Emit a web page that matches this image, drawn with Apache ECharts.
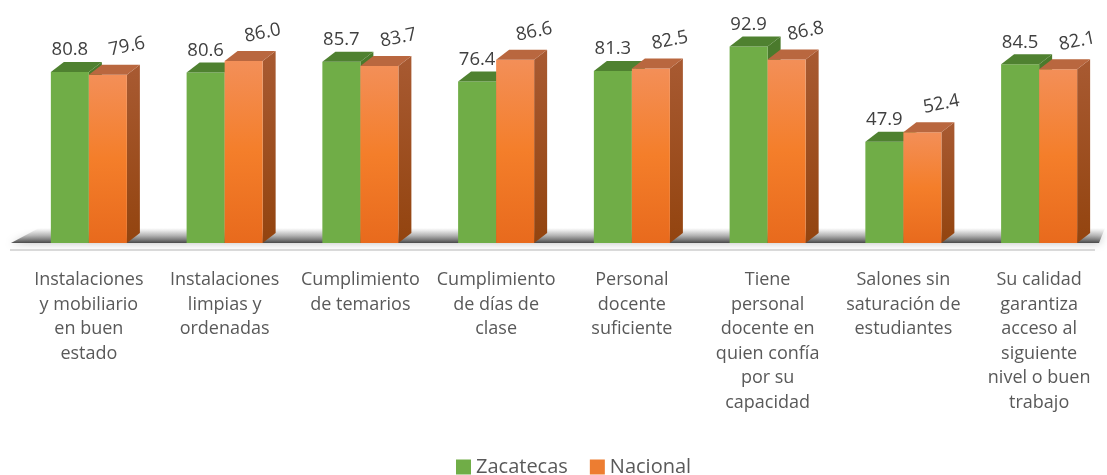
<!DOCTYPE html>
<html>
<head>
<meta charset="utf-8">
<script src="https://cdn.jsdelivr.net/npm/echarts@6/dist/echarts.min.js"></script>
<style>
  html, body { margin: 0; padding: 0; background: #ffffff; }
  #chart { width: 1107px; height: 475px; }
</style>
</head>
<body>
<div id="chart"></div>
<script>
const categories = [
  'Instalaciones\ny mobiliario\nen buen\nestado',
  'Instalaciones\nlimpias y\nordenadas',
  'Cumplimiento\nde temarios',
  'Cumplimiento\nde días de\nclase',
  'Personal\ndocente\nsuficiente',
  'Tiene\npersonal\ndocente en\nquien confía\npor su\ncapacidad',
  'Salones sin\nsaturación de\nestudiantes',
  'Su calidad\ngarantiza\nacceso al\nsiguiente\nnivel o buen\ntrabajo'
];
const zacatecas = [80.8, 80.6, 85.7, 76.4, 81.3, 92.9, 47.9, 84.5];
const nacional = [79.6, 86.0, 83.7, 86.6, 82.5, 86.8, 52.4, 82.1];
const seriesNames = ['Zacatecas', 'Nacional'];

const DX = 13, DY = 10;
const FONT = '"Open Sans", Lato, sans-serif';

const palettes = [
  {
    front: '#70AD47',
    top: '#4F8130',
    side: '#4A7A2C',
    legend: '#70AD47'
  },
  {
    front: new echarts.graphic.LinearGradient(0, 0, 0, 1, [
      { offset: 0, color: '#F38F58' },
      { offset: 0.5, color: '#F47E2A' },
      { offset: 1, color: '#E86A1D' }
    ]),
    top: '#B9673F',
    side: new echarts.graphic.LinearGradient(0, 0, 0, 1, [
      { offset: 0, color: '#A85A32' },
      { offset: 1, color: '#93440F' }
    ]),
    legend: '#ED7D31'
  }
];

function barRenderer(sIdx) {
  return function (params, api) {
    const ci = api.value(0);
    const val = api.value(1);
    const base = api.coord([ci, 0]);
    const top = api.coord([ci, val]);
    const band = api.size([1, 0])[0];
    const w = band * 0.28;
    const x0 = sIdx === 0 ? base[0] - w : base[0];
    const yt = top[1], yb = base[1];
    const p = palettes[sIdx];
    const children = [
      {
        type: 'polygon',
        shape: { points: [[x0 + w, yt], [x0 + w + DX, yt - DY], [x0 + w + DX, yb - DY], [x0 + w, yb]] },
        style: { fill: p.side }
      },
      {
        type: 'rect',
        shape: { x: x0, y: yt, width: w, height: yb - yt },
        style: { fill: p.front }
      },
      {
        type: 'polygon',
        shape: { points: [[x0, yt], [x0 + w, yt], [x0 + w + DX, yt - DY], [x0 + DX, yt - DY]] },
        style: { fill: p.top }
      }
    ];
    const txt = val.toFixed(1);
    if (sIdx === 0) {
      children.push({
        type: 'text',
        x: x0 + w / 2, y: yt - 22,
        style: { text: txt, fill: '#404040', font: '18.5px ' + FONT, align: 'center', verticalAlign: 'middle' }
      });
    } else {
      children.push({
        type: 'text',
        x: x0 + w / 2 + 19, y: yt - 28,
        rotation: 0.2,
        style: { text: txt, fill: '#404040', font: '18.5px ' + FONT, align: 'center', verticalAlign: 'middle' }
      });
    }
    return { type: 'group', children: children };
  };
}

function floorRenderer(params, api) {
  const ci = api.value(0);
  if (ci !== 0) return null;
  const cs = params.coordSys;
  const base = api.coord([0, 0])[1];
  const left = cs.x, right = cs.x + cs.width;
  return {
    type: 'group',
    children: [
      {
        type: 'polygon',
        shape: { points: [[left - 10, base], [right - 8, base], [right - 2, base - 15], [left + 18, base - 15]] },
        style: {
          fill: new echarts.graphic.LinearGradient(0, 0, 0, 1, [
            { offset: 0, color: 'rgba(150,150,150,0)' },
            { offset: 0.5, color: 'rgba(110,110,110,0.4)' },
            { offset: 1, color: 'rgba(45,45,45,0.85)' }
          ]),
          shadowBlur: 8,
          shadowColor: 'rgba(0,0,0,0.3)'
        }
      },
      {
        type: 'line',
        shape: { x1: left - 11, y1: base + 7, x2: right - 12, y2: base + 7 },
        style: { stroke: '#D9D9D9', lineWidth: 2 }
      }
    ]
  };
}

const chart = echarts.init(document.getElementById('chart'));
chart.setOption({
  animation: false,
  backgroundColor: '#ffffff',
  grid: { left: 21, right: -2, top: 31.5, bottom: 232, containLabel: false },
  xAxis: {
    type: 'category',
    data: categories,
    axisLine: { show: false },
    axisTick: { show: false },
    axisLabel: {
      interval: 0,
      margin: 25,
      color: '#595959',
      fontFamily: FONT,
      fontSize: 18,
      lineHeight: 24.5,
      align: 'center',
      verticalAlign: 'top'
    }
  },
  yAxis: {
    type: 'value',
    min: 0,
    max: 100,
    show: false,
    splitLine: { show: false }
  },
  legend: {
    data: seriesNames,
    left: 451,
    top: 452,
    itemWidth: 15,
    itemHeight: 15,
    itemGap: 22,
    icon: 'rect',
    textStyle: { color: '#595959', fontFamily: FONT, fontSize: 20 }
  },
  series: [
    {
      type: 'custom',
      name: '__floor',
      renderItem: floorRenderer,
      data: categories.map((c, i) => [i, 0]),
      encode: { x: 0, y: 1 },
      silent: true,
      z: 1
    },
    {
      type: 'custom',
      name: seriesNames[0],
      renderItem: barRenderer(0),
      data: zacatecas.map((v, i) => [i, v]),
      encode: { x: 0, y: 1 },
      itemStyle: { color: palettes[0].legend },
      z: 2
    },
    {
      type: 'custom',
      name: seriesNames[1],
      renderItem: barRenderer(1),
      data: nacional.map((v, i) => [i, v]),
      encode: { x: 0, y: 1 },
      itemStyle: { color: palettes[1].legend },
      z: 3
    }
  ]
});
</script>
</body>
</html>
